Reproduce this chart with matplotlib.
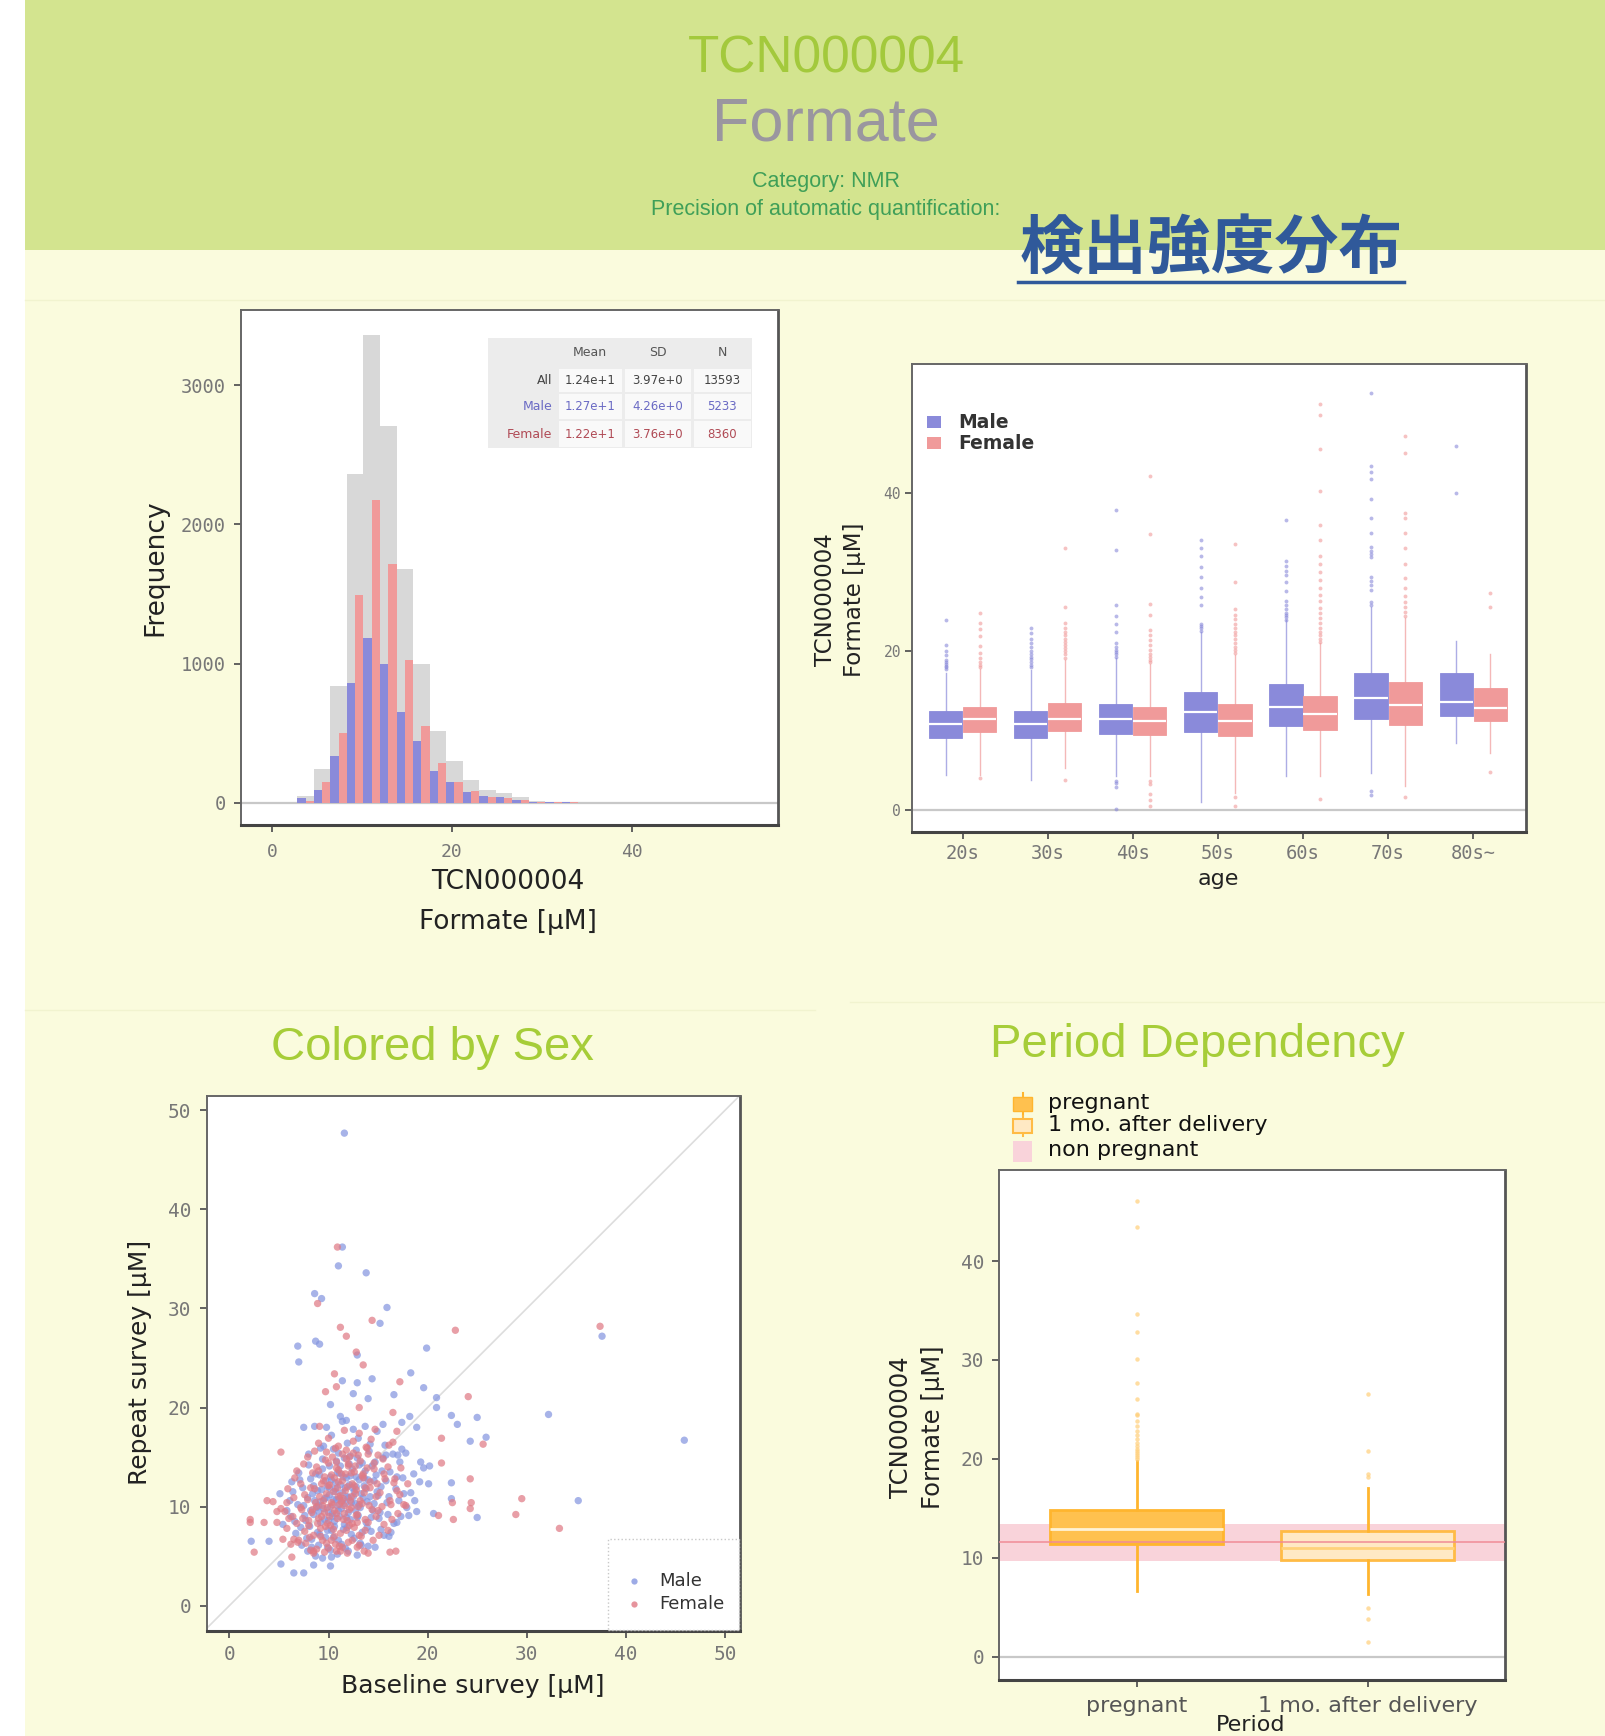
import numpy as np
import matplotlib
matplotlib.use("Agg")
import matplotlib.pyplot as plt
from matplotlib.patches import Rectangle
from matplotlib.lines import Line2D

W, H, DPI = 1605, 1736, 100
MONO = "DejaVu Sans Mono"
SANS = "DejaVu Sans"

# ---------------------------------------------------------------------------
# DATA
# ---------------------------------------------------------------------------
COMPOUND_ID = "TCN000004"
COMPOUND = "Formate"
CATEGORY = "Category: NMR"
PRECISION = "Precision of automatic quantification:"
JP_TITLE = "検出強度分布"

# histogram (bin width ~1.84 uM)
HIST_CENTERS = [3.74, 5.58, 7.42, 9.26, 11.10, 12.94, 14.78, 16.62, 18.46,
                20.30, 22.14, 23.98, 25.82, 27.66, 29.50, 31.34, 33.18]
HIST_MALE = [33, 93, 337, 863, 1180, 994, 655, 444, 229, 151, 74, 50, 38, 19, 8, 4, 2]
HIST_FEMALE = [14, 146, 504, 1496, 2177, 1716, 1025, 552, 289, 151, 86, 43, 33, 19, 8, 4, 2]
HIST_BIN_W = 1.84

TABLE_COLS = ["Mean", "SD", "N"]
TABLE_ROWS = ["All", "Male", "Female"]
TABLE_VALUES = [["1.24e+1", "3.97e+0", "13593"],
                ["1.27e+1", "4.26e+0", "5233"],
                ["1.22e+1", "3.76e+0", "8360"]]

# boxplot by age
AGE_GROUPS = ["20s", "30s", "40s", "50s", "60s", "70s", "80s~"]
M_Q1 = [9.1, 9.1, 9.6, 9.8, 10.6, 11.5, 11.8]
M_MED = [10.8, 10.8, 11.4, 12.3, 13.0, 14.1, 13.6]
M_Q3 = [12.4, 12.5, 13.4, 14.9, 15.9, 17.2, 17.2]
M_LO = [4.4, 3.7, 4.2, 1.0, 4.2, 4.6, 8.4]
M_HI = [17.3, 17.6, 19.1, 22.4, 23.9, 25.6, 21.3]
M_FLIERS = [
    [17.8, 18.0, 18.2, 18.4, 18.6, 18.9, 19.5, 20.0, 20.8, 24.0],
    [18.0, 18.3, 18.6, 19.0, 19.3, 19.7, 20.1, 20.5, 21.0, 21.6, 22.3, 22.9],
    [19.3, 19.6, 19.9, 20.2, 20.6, 21.0, 22.4, 23.4, 24.5, 25.8, 32.8, 37.8, 3.6, 3.3, 2.8, 0.1],
    [22.6, 22.9, 23.2, 23.5, 25.8, 26.9, 28.0, 29.4, 30.6, 32.0, 33.0, 34.0],
    [24.0, 24.3, 24.6, 24.9, 25.3, 25.8, 26.3, 27.6, 28.8, 29.6, 30.2, 30.8, 31.4, 36.6],
    [25.8, 26.2, 27.7, 28.4, 28.9, 29.4, 31.9, 32.3, 32.7, 33.2, 35.0, 36.9, 39.2,
     41.8, 42.6, 43.4, 52.6, 2.4, 1.9],
    [40.0, 46.0],
]
F_Q1 = [9.8, 9.9, 9.4, 9.3, 10.0, 10.7, 11.2]
F_MED = [11.4, 11.4, 11.2, 11.2, 12.1, 13.2, 12.8]
F_Q3 = [13.0, 13.5, 13.0, 13.4, 14.4, 16.1, 15.4]
F_LO = [4.4, 5.3, 4.2, 2.1, 4.2, 3.0, 7.1]
F_HI = [17.8, 18.9, 18.4, 19.5, 21.0, 24.2, 19.7]
F_FLIERS = [
    [18.0, 18.3, 18.7, 19.2, 19.8, 20.7, 21.9, 22.8, 23.6, 24.9, 4.0],
    [19.2, 19.6, 20.0, 20.4, 20.8, 21.2, 21.6, 22.0, 22.5, 23.0, 23.6, 25.6, 33.1, 3.8],
    [18.6, 18.9, 19.3, 19.7, 20.2, 20.8, 21.4, 22.0, 22.7, 24.6, 26.0, 34.8, 42.1,
     3.6, 3.2, 2.0, 1.2, 0.4],
    [19.8, 20.2, 20.6, 21.0, 21.5, 22.0, 22.5, 23.0, 23.5, 24.1, 24.6, 25.4, 28.8, 33.5, 1.6, 0.4],
    [21.2, 21.6, 22.0, 22.5, 23.0, 23.6, 24.2, 24.8, 25.5, 26.3, 27.1, 28.0, 29.0, 30.0,
     31.0, 32.0, 34.0, 36.0, 40.2, 45.5, 49.8, 51.3, 1.4],
    [24.5, 25.0, 25.6, 26.2, 27.0, 28.0, 29.2, 31.0, 33.0, 35.0, 36.8, 37.5, 45.0, 47.2, 1.6],
    [4.7, 25.6, 27.4],
]

# scatter: baseline vs repeat survey
MALE_BASE = [
    11.6, 11.4, 11.0, 13.8, 8.6, 9.3, 15.9, 15.2, 8.7, 9.1, 6.9, 7.0, 19.9, 12.9, 14.4, 11.4,
    12.9, 18.3, 19.6, 12.5, 16.6, 14.0, 20.9, 20.9, 10.2, 22.4, 25.0, 23.0, 32.2, 24.3, 25.9,
    45.9, 37.6, 18.2, 18.9, 17.4, 13.7, 15.5, 11.2, 11.8, 9.8, 7.5, 8.6, 22.4, 22.4, 35.2,
    25.0, 20.6, 20.1, 19.2, 19.6, 19.3, 20.2, 18.7, 18.9, 18.1, 17.8, 17.0, 17.4, 2.2, 4.0,
    5.1, 5.2, 6.5, 7.5, 8.5, 10.2, 10.3, 5.4, 6.3, 5.8, 13.3, 14.7, 16.1, 15.3, 16.9,
    9.2, 10.1, 11.3, 12.0, 10.7, 11.8, 9.6, 10.4, 12.6, 13.1, 8.8, 9.9, 11.1, 12.4, 13.6,
    14.2, 10.3, 11.6, 12.9, 8.1, 7.6, 8.4, 9.1, 10.8, 12.2, 13.4, 14.8, 15.3, 14.5, 13.8,
    12.3, 11.0, 9.7, 8.9, 7.8, 7.2, 6.9, 7.4, 8.2, 9.4, 10.5, 11.9, 13.0, 14.1, 15.5,
    16.2, 16.8, 15.9, 15.1, 14.3, 13.2, 11.7, 10.2, 9.0, 8.3, 11.4, 10.9, 11.9, 12.7, 9.8,
    10.0, 10.6, 11.5, 12.1, 13.3, 13.9, 9.3, 8.6, 10.2, 11.2, 12.8, 13.7, 14.6, 15.0, 16.0,
    17.1, 17.5, 16.5, 15.7, 14.9, 12.5, 11.4, 10.3, 9.5, 8.0, 7.1, 6.4, 6.2, 6.7, 7.9,
    9.4, 12.9, 14.0, 15.6, 16.6, 17.9, 18.3, 18.6, 17.2, 10.7, 11.1, 12.3, 9.0, 10.5, 13.1,
    11.7, 12.9, 14.4, 15.8, 8.5]
MALE_REPEAT = [
    47.7, 36.2, 34.3, 33.6, 31.5, 31.0, 30.1, 28.5, 26.7, 26.4, 26.2, 24.6, 26.0, 25.3, 22.9, 22.7,
    22.5, 23.5, 22.0, 21.4, 21.3, 20.9, 21.0, 20.0, 20.3, 19.2, 19.0, 18.3, 19.3, 16.6, 17.0,
    16.7, 27.2, 19.1, 18.0, 18.5, 18.1, 18.3, 19.1, 18.7, 18.0, 18.0, 18.1, 12.4, 10.8, 10.6,
    8.9, 9.3, 12.3, 12.5, 13.9, 14.5, 14.1, 10.6, 9.5, 9.1, 15.4, 15.2, 15.8, 6.5, 6.5,
    11.3, 4.2, 3.3, 3.3, 4.1, 4.0, 4.9, 8.2, 12.5, 9.6, 6.1, 5.9, 7.0, 7.7, 8.4,
    10.5, 11.2, 9.8, 10.9, 12.4, 12.9, 8.7, 9.3, 11.5, 10.2, 9.9, 12.0, 13.4, 13.8, 12.1,
    11.0, 7.6, 8.2, 8.9, 8.0, 9.1, 11.3, 13.2, 14.6, 15.1, 14.4, 13.2, 12.0, 9.6, 8.4,
    7.2, 6.6, 6.9, 7.4, 6.8, 7.9, 10.2, 11.9, 12.8, 14.8, 15.8, 16.4, 16.9, 15.6, 14.9,
    13.5, 11.8, 10.4, 8.8, 7.5, 6.3, 5.8, 5.6, 6.1, 5.9, 10.6, 10.1, 11.0, 9.6, 10.9,
    9.4, 8.5, 7.7, 12.2, 11.3, 10.5, 11.7, 10.6, 13.0, 14.1, 13.0, 13.6, 12.6, 11.1, 9.2,
    10.6, 12.9, 15.3, 16.2, 17.6, 17.8, 18.6, 17.2, 16.1, 14.2, 12.7, 11.5, 9.0, 7.3, 5.5,
    4.8, 5.1, 6.0, 7.1, 8.3, 9.9, 11.4, 13.3, 14.5, 11.8, 9.0, 10.4, 9.5, 10.7, 12.7,
    11.9, 14.9, 14.1, 12.6, 12.1]
MALE_CORE_BASE = [
    10.2, 10.8, 11.4, 12.0, 9.5, 10.1, 11.2, 12.5, 9.2, 10.6, 11.9, 13.0, 13.5, 12.2, 10.9,
    9.7, 8.9, 8.5, 9.1, 10.5, 12.6, 13.9, 14.6, 14.0, 13.1, 11.6, 10.1, 8.7, 7.9, 7.7,
    8.3, 9.9, 11.3, 12.2, 11.0, 10.4, 9.6, 11.7, 12.8, 13.8, 14.9, 15.4, 16.1, 15.2, 14.3,
    13.4, 12.0, 10.9, 8.7, 7.3, 6.6, 6.1, 7.0, 8.0, 9.2, 11.0, 12.8, 14.2, 15.8, 16.9,
    17.6, 17.3, 16.3, 10.3, 11.5, 12.4, 9.9, 10.7, 11.8, 13.2, 9.0, 8.2, 12.7, 13.6, 11.1,
    10.0, 12.1, 14.7, 7.5, 9.4]
MALE_CORE_REPEAT = [
    10.0, 10.7, 11.4, 9.4, 9.8, 11.9, 12.2, 11.0, 8.4, 8.0, 7.9, 9.1, 10.9, 13.1, 13.4,
    12.6, 11.6, 9.2, 7.2, 6.9, 6.8, 7.9, 10.3, 12.7, 14.2, 14.9, 14.1, 13.3, 10.9, 8.6,
    6.7, 5.9, 6.2, 8.7, 9.6, 9.0, 10.8, 10.3, 12.0, 11.8, 11.5, 13.6, 11.0, 9.4, 8.9,
    7.4, 5.5, 5.2, 5.0, 6.1, 8.5, 10.6, 13.4, 15.3, 15.9, 15.4, 15.7, 16.3, 15.2, 13.0,
    11.3, 9.0, 7.4, 12.7, 13.0, 11.9, 7.6, 11.5, 8.9, 9.9, 10.1, 9.6, 10.3, 12.9, 10.8,
    8.6, 14.3, 14.5, 10.1, 13.8]
FEMALE_BASE = [
    10.9, 8.9, 14.4, 11.2, 11.8, 22.8, 37.4, 12.8, 13.5, 10.6, 10.8, 9.7, 17.2, 13.1, 16.5,
    24.1, 14.7, 9.1, 21.4, 25.6, 16.5, 16.9, 5.2, 21.4, 24.3, 29.5, 24.4, 24.3, 22.5, 28.9,
    33.3, 21.1, 22.6, 17.8, 2.1, 2.1, 3.5, 2.5, 3.8, 4.4, 4.8, 5.2, 5.6, 4.8, 6.2, 6.3,
    6.5, 5.4, 14.0, 16.2, 16.8, 11.2, 13.1, 8.5, 5.8,
    10.6, 11.5, 9.8, 12.3, 11.0, 12.8, 9.3, 10.2, 11.9, 13.2, 8.7, 9.5, 10.8, 12.0, 13.5,
    14.1, 11.2, 12.6, 13.7, 8.0, 7.3, 8.2, 9.0, 10.4, 11.8, 13.0, 14.6, 15.2, 14.8, 13.3,
    12.0, 10.7, 9.4, 8.5, 7.6, 6.8, 6.5, 7.2, 8.4, 9.7, 11.0, 12.5, 13.8, 15.0, 16.0,
    16.6, 16.3, 15.6, 14.5, 12.9, 11.4, 10.0, 8.8, 7.7, 11.2, 10.3, 12.2, 11.6, 9.9, 10.9,
    12.4, 13.6, 9.1, 8.9, 10.1, 11.3, 12.7, 13.9, 14.9, 15.4, 16.9, 17.3, 16.1, 14.3, 13.1,
    11.6, 10.0, 8.6, 7.5, 6.6, 5.9, 6.0, 6.9, 8.2, 9.6, 13.6, 15.1, 16.4, 17.6, 18.0,
    10.5, 11.9, 9.4, 12.9, 11.1, 10.8, 12.1, 14.0, 9.2, 13.4, 8.4, 10.6, 12.4, 7.9, 11.8,
    15.7, 14.2, 9.8, 10.3, 12.6]
FEMALE_REPEAT = [
    36.2, 30.5, 28.8, 28.1, 27.2, 27.8, 28.2, 25.6, 24.3, 23.4, 22.1, 21.6, 22.6, 20.0, 19.5,
    21.1, 17.8, 18.1, 16.9, 16.3, 16.5, 17.6, 15.5, 14.4, 12.8, 10.8, 10.4, 9.8, 10.4, 9.2,
    7.8, 9.1, 8.7, 10.1, 8.7, 8.4, 8.4, 5.4, 10.6, 10.5, 9.5, 9.8, 9.5, 8.4, 6.2, 4.9,
    6.7, 6.7, 5.3, 5.4, 5.5, 5.5, 6.1, 5.5, 7.8,
    9.6, 10.8, 11.3, 9.9, 12.5, 11.7, 9.0, 8.1, 8.6, 10.6, 10.4, 12.6, 13.9, 14.3, 12.9,
    10.1, 7.3, 7.9, 8.7, 8.6, 9.7, 11.9, 13.6, 15.0, 15.7, 15.2, 13.8, 11.4, 9.0, 7.0,
    6.4, 6.2, 6.6, 7.1, 7.5, 8.3, 10.9, 12.3, 13.4, 14.7, 16.1, 16.6, 16.0, 15.2, 14.0,
    12.4, 10.2, 8.2, 6.6, 5.9, 5.9, 5.8, 5.7, 6.3, 11.1, 10.4, 10.6, 9.3, 9.9, 8.8,
    12.3, 11.4, 11.0, 8.3, 12.2, 13.3, 14.1, 13.9, 12.3, 10.0, 11.6, 13.9, 16.2, 16.8, 17.4,
    17.7, 16.9, 15.6, 14.3, 12.9, 11.8, 8.8, 6.4, 5.6, 5.4, 5.5, 7.1, 8.7, 10.2, 12.3,
    11.5, 12.0, 10.1, 9.2, 10.2, 14.5, 15.0, 15.3, 7.8, 13.1, 9.7, 7.0, 8.3, 10.7, 14.8,
    12.8, 11.9, 15.5, 13.2, 13.5]
FEMALE_CORE_BASE = [
    10.4, 11.0, 11.7, 12.1, 9.6, 10.0, 11.4, 12.7, 9.0, 10.5, 11.8, 12.9, 13.4, 12.3, 11.0,
    9.6, 8.6, 8.3, 9.2, 10.3, 12.4, 13.7, 14.4, 14.2, 13.2, 11.4, 10.0, 8.8, 7.6, 7.4,
    8.1, 9.8, 11.1, 12.1, 10.8, 10.1, 9.5, 11.6, 12.6, 13.7, 14.8, 15.6, 16.2, 15.0, 14.0,
    13.1, 11.9, 10.8, 8.5, 7.0, 6.4, 5.8, 6.8, 7.9, 9.0, 10.7, 12.5, 13.9, 15.5, 16.7,
    17.2, 17.0, 16.0, 10.6, 11.7, 12.3, 9.7, 10.9, 11.5, 13.0, 8.8, 8.0, 12.8, 13.5, 11.3,
    9.9, 12.0, 14.6, 7.2, 9.3]
FEMALE_CORE_REPEAT = [
    10.2, 11.0, 11.6, 9.7, 9.4, 12.1, 12.6, 11.3, 8.8, 7.7, 7.6, 8.4, 10.3, 13.4, 13.7,
    13.0, 11.8, 9.4, 7.0, 6.6, 6.6, 7.6, 9.7, 12.5, 14.6, 15.3, 14.4, 14.0, 11.2, 8.8,
    6.9, 6.3, 6.0, 8.1, 9.3, 9.0, 10.6, 10.1, 12.1, 11.9, 11.0, 13.3, 10.6, 9.6, 8.4,
    7.1, 5.3, 5.5, 5.3, 6.6, 9.0, 10.4, 13.6, 15.0, 16.4, 15.9, 15.4, 15.9, 14.8, 12.8,
    11.2, 9.3, 7.6, 12.9, 13.3, 11.0, 8.0, 11.9, 8.7, 10.0, 10.0, 8.1, 9.1, 13.3, 10.5,
    8.3, 14.1, 14.4, 9.9, 12.3]

# period dependency
PERIODS = ["pregnant", "1 mo. after delivery"]
P_Q1 = [11.38, 9.8]
P_MED = [12.95, 11.0]
P_Q3 = [14.78, 12.7]
P_LO = [6.6, 6.3]
P_HI = [19.8, 17.1]
P_FLIERS = [
    [20.0, 20.2, 20.4, 20.6, 20.8, 21.0, 21.3, 21.6, 22.0, 22.4, 22.8, 23.3, 23.8, 24.4,
     24.5, 26.0, 27.7, 30.1, 32.8, 34.6, 43.4, 46.1],
    [18.2, 18.5, 20.8, 26.6, 4.9, 3.8, 1.5],
]
NONPREG_LOW, NONPREG_MID, NONPREG_HIGH = 9.7, 11.6, 13.4

# colours
GREEN_BG = "#d3e48f"
CREAM_BG = "#fafbdd"
TITLE_GREEN = "#a6cd38"
MALE_C = "#8a8ada"
FEMALE_C = "#f09a9a"
SC_MALE = "#8596e0"
SC_FEMALE = "#e07a85"
PREG_C = "#ffc14f"
PREG_EDGE = "#ffb52e"
POST_C = "#ffe9c4"
POST_EDGE = "#ffbb45"
PINK = "#f9d3da"


# ---------------------------------------------------------------------------
# helpers (positions in reference pixels)
# ---------------------------------------------------------------------------
fig = plt.figure(figsize=(W / DPI, H / DPI), dpi=DPI)
fig.patch.set_facecolor("white")


def pbox(l, t, r, b):
    return [l / W, 1 - b / H, (r - l) / W, (b - t) / H]


def ftext(x, y, s, **kw):
    return fig.text(x / W, 1 - y / H, s, **kw)


def frect(x0, y0, x1, y1, **kw):
    fig.add_artist(Rectangle((x0 / W, 1 - y1 / H), (x1 - x0) / W, (y1 - y0) / H,
                             transform=fig.transFigure, **kw))


def fline(xs, ys, **kw):
    fig.add_artist(Line2D([x / W for x in xs], [1 - y / H for y in ys],
                          transform=fig.transFigure, **kw))


def style(ax):
    ax.set_facecolor("white")
    for s in ax.spines.values():
        s.set_color("#666666")
        s.set_linewidth(1.4)
    ax.spines["bottom"].set_color("#444444")
    ax.spines["bottom"].set_linewidth(2.2)
    ax.spines["right"].set_color("#555555")
    ax.spines["right"].set_linewidth(2.0)
    ax.tick_params(color="#555555", length=5, width=1.3)


# ---------------------------------------------------------------------------
# background + header
# ---------------------------------------------------------------------------
bg = fig.add_axes([0, 0, 1, 1])
bg.set_xlim(0, W)
bg.set_ylim(H, 0)
bg.axis("off")
bg.add_patch(Rectangle((25, 250), W - 25, H - 250, color=CREAM_BG, lw=0))
bg.add_patch(Rectangle((25, 0), W - 25, 250, color=GREEN_BG, lw=0))
bg.plot([25, W], [300, 300], color="#f1f3cf", lw=1)
bg.plot([25, 815], [1010, 1010], color="#f1f3cf", lw=1)
bg.plot([850, W], [1002, 1002], color="#f1f3cf", lw=1)

bg.text(826, 59, COMPOUND_ID, ha="center", va="center", fontsize=37,
        family="Liberation Sans", color="#a3c93c")
bg.text(826, 125, COMPOUND, ha="center", va="center", fontsize=44,
        family="Liberation Sans", color="#9a969f")
bg.text(826, 181, CATEGORY, ha="center", va="center", fontsize=15.5,
        family="Liberation Sans", color="#3f9f58")
bg.text(826, 209, PRECISION, ha="center", va="center", fontsize=15.5,
        family="Liberation Sans", color="#3f9f58")
bg.text(1211, 250, JP_TITLE, ha="center", va="center", fontsize=46,
        family=["Noto Sans CJK JP", "DejaVu Sans"], fontweight="bold", color="#30599a")
bg.plot([1018, 1404], [282, 282], color="#30599a", lw=2.5)

bg.text(432, 1048, "Colored by Sex", ha="center", va="center", fontsize=34,
        family="Liberation Sans", color=TITLE_GREEN)
bg.text(1197, 1045, "Period Dependency", ha="center", va="center", fontsize=34,
        family="Liberation Sans", color=TITLE_GREEN)

# ---------------------------------------------------------------------------
# panel A: histogram
# ---------------------------------------------------------------------------
ax_h = fig.add_axes(pbox(241, 310, 778, 825))
style(ax_h)
hc = np.array(HIST_CENTERS)
hall = np.array(HIST_MALE) + np.array(HIST_FEMALE)
ax_h.bar(hc, hall, width=HIST_BIN_W, color="#d8d8d8", lw=0, zorder=1)
ax_h.bar(hc - HIST_BIN_W / 4, HIST_MALE, width=HIST_BIN_W / 2, color=MALE_C, lw=0, zorder=2)
ax_h.bar(hc + HIST_BIN_W / 4, HIST_FEMALE, width=HIST_BIN_W / 2, color=FEMALE_C, lw=0, zorder=2)
ax_h.axhline(0, color="#c8c8c8", lw=1.6, zorder=0.5)
ax_h.set_xlim(-3.45, 56.3)
ax_h.set_ylim(-160, 3540)
ax_h.set_xticks([0, 20, 40], ["0", "20", "40"], family=MONO, fontsize=13, color="#777777")
ax_h.set_yticks([0, 1000, 2000, 3000], ["0", "1000", "2000", "3000"], family=MONO,
                fontsize=13.5, color="#777777")
ax_h.tick_params(axis="x", pad=8)
ax_h.tick_params(axis="y", pad=6)
ftext(155, 568, "Frequency", rotation=90, ha="center", va="center", fontsize=19,
      family=SANS, color="#222222")
ftext(508, 882, COMPOUND_ID, ha="center", va="center", fontsize=19, family=SANS, color="#222222")
ftext(508, 922, "Formate [μM]", ha="center", va="center", fontsize=19, family=SANS, color="#222222")

# summary table
col_x = [488, 557, 623, 692, 752]
row_y = [338, 367, 393, 420, 448]
frect(col_x[0], row_y[0], col_x[-1], row_y[-1], facecolor="#ececec", edgecolor="none", zorder=3)
for i in range(3):
    for j in range(3):
        frect(col_x[j + 1] + 1.5, row_y[i + 1] + 1.5, col_x[j + 2] - 1.5, row_y[i + 2] - 1.5,
              facecolor="#f9f9f9", edgecolor="none", zorder=3)
row_colors = ["#444444", "#6a6ac4", "#b04a55"]
for j, c in enumerate(TABLE_COLS):
    ftext((col_x[j + 1] + col_x[j + 2]) / 2, (row_y[0] + row_y[1]) / 2, c, ha="center",
          va="center", fontsize=9, color="#555555", zorder=4)
for i, r in enumerate(TABLE_ROWS):
    yc = (row_y[i + 1] + row_y[i + 2]) / 2
    ftext(col_x[1] - 5, yc, r, ha="right", va="center", fontsize=9, color=row_colors[i], zorder=4)
    for j in range(3):
        ftext((col_x[j + 1] + col_x[j + 2]) / 2, yc, TABLE_VALUES[i][j], ha="center",
              va="center", fontsize=8.5, color=row_colors[i], zorder=4)

# ---------------------------------------------------------------------------
# panel B: boxplot by age and sex
# ---------------------------------------------------------------------------
ax_b = fig.add_axes(pbox(912, 364, 1526, 832))
style(ax_b)
pos = np.arange(1, len(AGE_GROUPS) + 1)


def bstats(q1, med, q3, lo, hi, fl):
    return [dict(q1=a, med=b, q3=c, whislo=d, whishi=e, fliers=f)
            for a, b, c, d, e, f in zip(q1, med, q3, lo, hi, fl)]


for stats, off, col in [(bstats(M_Q1, M_MED, M_Q3, M_LO, M_HI, M_FLIERS), -0.2, MALE_C),
                        (bstats(F_Q1, F_MED, F_Q3, F_LO, F_HI, F_FLIERS), 0.2, FEMALE_C)]:
    ax_b.bxp(stats, positions=pos + off, widths=0.39, patch_artist=True, showcaps=False,
             boxprops=dict(facecolor=col, edgecolor=col, lw=0.6),
             medianprops=dict(color="white", lw=1.6),
             whiskerprops=dict(color=col, lw=1.0, alpha=0.7),
             flierprops=dict(marker="o", markersize=2.8, markerfacecolor=col,
                             markeredgecolor="none", alpha=0.6))
ax_b.axhline(0, color="#c8c8c8", lw=1.6, zorder=0.5)
ax_b.set_xlim(0.406, 7.62)
ax_b.set_ylim(-2.83, 56.3)
ax_b.set_xticks(pos, AGE_GROUPS, family=MONO, fontsize=13.5, color="#777777")
ax_b.set_yticks([0, 20, 40], ["0", "20", "40"], family=MONO, fontsize=10.5, color="#777777")
ax_b.tick_params(axis="x", pad=4)
ax_b.tick_params(axis="y", pad=3)
ftext(840, 600, "TCN000004\nFormate [μM]", rotation=90, ha="center", va="center",
      fontsize=16.5, family=SANS, color="#222222", linespacing=1.3, multialignment="center")
ftext(1218, 879, "age", ha="center", va="center", fontsize=16, family=SANS, color="#222222")
for yy, lab, col in [(422, "Male", MALE_C), (443, "Female", FEMALE_C)]:
    frect(927, yy - 6, 941, yy + 6, facecolor=col, edgecolor="none", zorder=4)
    ftext(958, yy, lab, ha="left", va="center", fontsize=13.5, fontweight="bold",
          family=SANS, color="#333333")

# ---------------------------------------------------------------------------
# panel C: scatter baseline vs repeat
# ---------------------------------------------------------------------------
ax_s = fig.add_axes(pbox(206.5, 1095.5, 740.4, 1631))
style(ax_s)
ax_s.plot([-3, 52], [-3, 52], color="#dddddd", lw=1.2, zorder=0.5)
mx = MALE_BASE + MALE_CORE_BASE
my = MALE_REPEAT + MALE_CORE_REPEAT
fx = FEMALE_BASE + FEMALE_CORE_BASE
fy = FEMALE_REPEAT + FEMALE_CORE_REPEAT
ax_s.scatter(mx, my, s=28, color=SC_MALE, alpha=0.72, edgecolors="none", zorder=2)
ax_s.scatter(fx, fy, s=28, color=SC_FEMALE, alpha=0.72, edgecolors="none", zorder=2)
ax_s.set_xlim(-2.31, 51.56)
ax_s.set_ylim(-2.56, 51.5)
ticks = [0, 10, 20, 30, 40, 50]
ax_s.set_xticks(ticks, [str(t) for t in ticks], family=MONO, fontsize=14, color="#777777")
ax_s.set_yticks(ticks, [str(t) for t in ticks], family=MONO, fontsize=14, color="#777777")
ax_s.tick_params(axis="x", pad=5)
ax_s.tick_params(axis="y", pad=6)
ftext(473, 1686, "Baseline survey [μM]", ha="center", va="center", fontsize=18,
      family=SANS, color="#222222")
ftext(140, 1362, "Repeat survey [μM]", rotation=90, ha="center", va="center", fontsize=18,
      family=SANS, color="#222222")
frect(608, 1539, 739, 1630, facecolor="white", edgecolor="#c8c8c8", lw=1, ls=":", zorder=3)
for yy, lab, col in [(1581, "Male", SC_MALE), (1604, "Female", SC_FEMALE)]:
    fig.add_artist(Line2D([634 / W], [1 - yy / H], marker="o", markersize=4.5, color=col,
                          alpha=0.8, markeredgecolor="none", transform=fig.transFigure, zorder=4))
    ftext(659, yy, lab, ha="left", va="center", fontsize=13, family=SANS, color="#333333", zorder=4)

# ---------------------------------------------------------------------------
# panel D: period dependency
# ---------------------------------------------------------------------------
ax_p = fig.add_axes(pbox(999.4, 1170, 1505.2, 1680.4))
style(ax_p)
ax_p.axhspan(NONPREG_LOW, NONPREG_HIGH, color=PINK, lw=0, zorder=0.4)
ax_p.axhline(0, color="#c8c8c8", lw=1.6, zorder=0.5)
ppos = np.arange(1, len(PERIODS) + 1)
pstats = bstats(P_Q1, P_MED, P_Q3, P_LO, P_HI, P_FLIERS)
for k, (fc, ec, mc) in enumerate([(PREG_C, PREG_EDGE, "#fff3d6"), (POST_C, POST_EDGE, "#ffd27a")]):
    ax_p.bxp([pstats[k]], positions=[ppos[k]], widths=0.75, patch_artist=True, showcaps=False,
             boxprops=dict(facecolor=fc, edgecolor=ec, lw=2),
             medianprops=dict(color=mc, lw=2),
             whiskerprops=dict(color=PREG_EDGE, lw=2),
             flierprops=dict(marker="o", markersize=3.2, markerfacecolor="#ffcf7a",
                             markeredgecolor="none", alpha=0.7))
ax_p.axhline(NONPREG_MID, color="#f08a95", lw=1.2, alpha=0.9, zorder=3)
ax_p.set_xlim(0.406, 2.596)
ax_p.set_ylim(-2.4, 49.2)
ax_p.set_xticks(ppos, PERIODS, family=SANS, fontsize=16, color="#555555")
ax_p.set_yticks([0, 10, 20, 30, 40], ["0", "10", "20", "30", "40"], family=MONO,
                fontsize=14, color="#777777")
ax_p.tick_params(axis="x", pad=6)
ax_p.tick_params(axis="y", pad=6)
ftext(917, 1427, "TCN000004\nFormate [μM]", rotation=90, ha="center", va="center",
      fontsize=17.5, family=SANS, color="#222222", linespacing=1.4, multialignment="center")
ftext(1251, 1735, "Period", ha="center", va="bottom", fontsize=16, family=SANS, color="#222222")

# period legend
fline([1022.5, 1022.5], [1093, 1115], color=PREG_EDGE, lw=1.5, zorder=4)
frect(1013, 1097, 1032, 1111, facecolor=PREG_C, edgecolor=PREG_EDGE, lw=1, zorder=4)
fline([1022.5, 1022.5], [1116, 1136], color=POST_EDGE, lw=1.5, zorder=4)
frect(1013, 1119, 1032, 1133, facecolor=POST_C, edgecolor=POST_EDGE, lw=1.5, zorder=4)
frect(1013, 1141, 1032, 1162, facecolor=PINK, edgecolor="none", zorder=4)
for yy, lab in [(1103, "pregnant"), (1125, "1 mo. after delivery"), (1150, "non pregnant")]:
    ftext(1048, yy, lab, ha="left", va="center", fontsize=16, family=SANS, color="#111111")

fig.savefig("out.png", dpi=DPI, facecolor=fig.get_facecolor())
